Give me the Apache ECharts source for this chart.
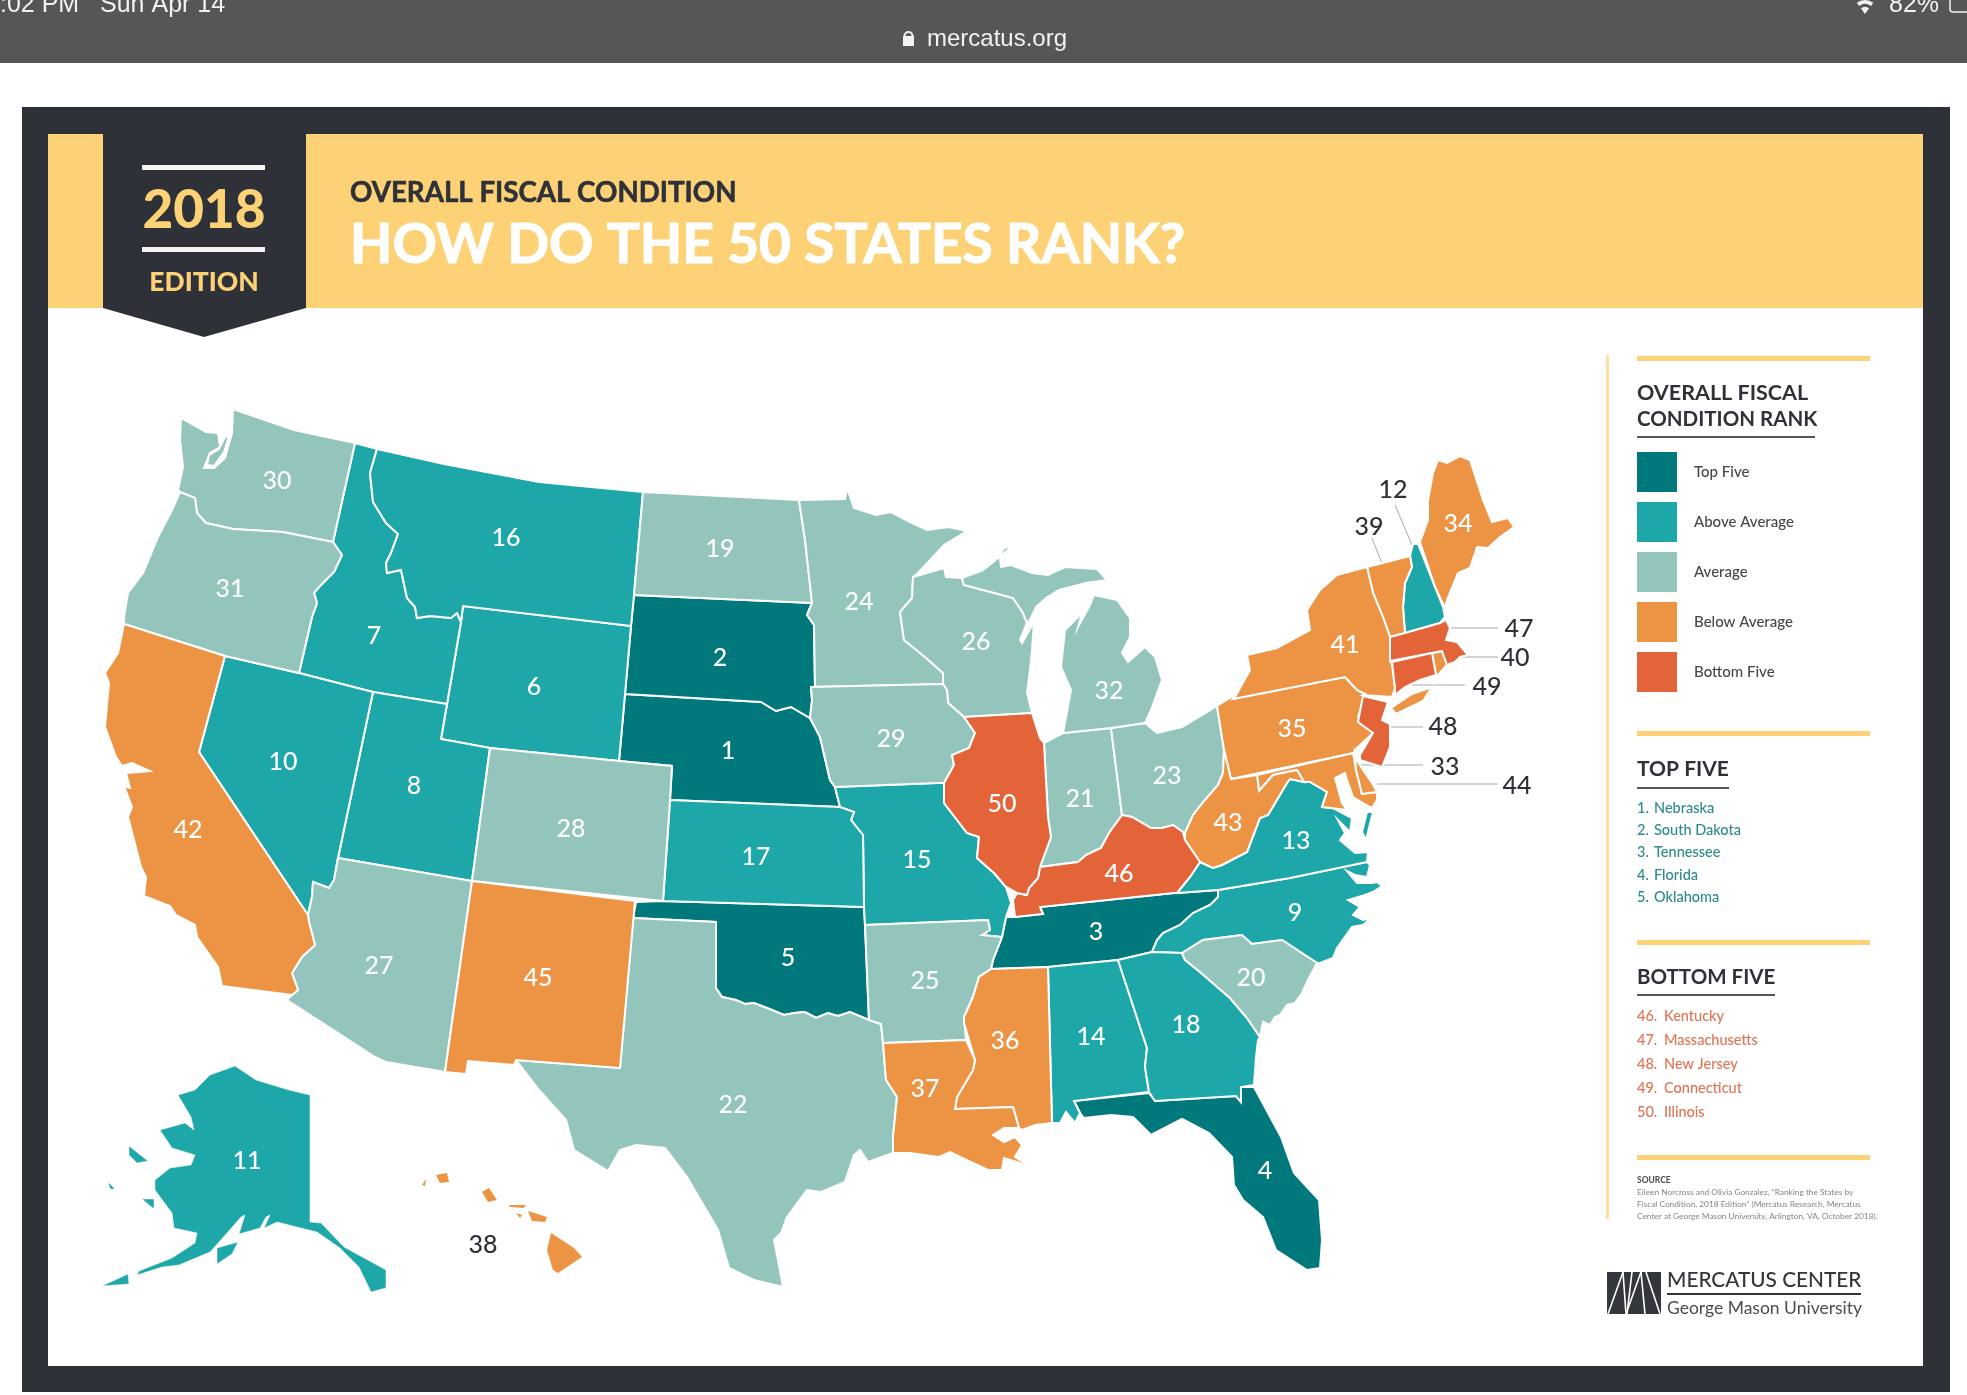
<!DOCTYPE html>
<html>
<head>
<meta charset="utf-8">
<title>How do the 50 states rank?</title>
<script src="https://cdn.jsdelivr.net/npm/echarts@6/dist/echarts.min.js"></script>
<style>
html,body{margin:0;padding:0;background:#fff}
#container{width:1967px;height:1395px}
</style>
</head>
<body>
<div id="container"></div>
<script>
// data
var stateNames = ["Nebraska","South Dakota","Tennessee","Florida","Oklahoma","Wyoming","Idaho","Utah","North Carolina","Nevada",
    "Alaska","New Hampshire","Virginia","Alabama","Missouri","Montana","Kansas","Georgia","North Dakota","South Carolina",
    "Indiana","Texas","Ohio","Minnesota","Arkansas","Wisconsin","Arizona","Colorado","Iowa","Washington",
    "Oregon","Michigan","Maryland","Maine","Pennsylvania","Mississippi","Louisiana","Hawaii","Vermont","Rhode Island",
    "New York","California","West Virginia","Delaware","New Mexico","Kentucky","Massachusetts","New Jersey","Connecticut","Illinois"];
var stateRanks = [1,2,3,4,5,6,7,8,9,10,11,12,13,14,15,16,17,18,19,20,21,22,23,24,25,26,27,28,29,30,31,32,33,34,35,36,37,38,39,40,41,42,43,44,45,46,47,48,49,50];
var calloutStates = ["Hawaii","New Hampshire","Vermont","Massachusetts","Rhode Island","Connecticut","New Jersey","Maryland","Delaware"];

var tierLabels = ["Top Five","Above Average","Average","Below Average","Bottom Five"];
var tierMin = [1,6,19,33,46];
var tierMax = [5,18,32,45,50];
var tierColors = ["#00787c","#1ea7a8","#93c5bc","#ec9344","#e4643a"];

var topFive = ["Nebraska","South Dakota","Tennessee","Florida","Oklahoma"];
var topFiveRanks = [1,2,3,4,5];
var bottomFive = ["Kentucky","Massachusetts","New Jersey","Connecticut","Illinois"];
var bottomFiveRanks = [46,47,48,49,50];

// state outlines, traced in page pixels
var shapes = {
"Washington":["181,418 206,432 218,433 220,447 210,453 204,468 214,468 225,458 232,433 233,409 294,430 355,443 333,542 283,532 233,529 206,523 197,513 195,498 180,492 178,490 183,467 180,440",
    "207,465 209,455 219,449 225,437 229,436 224,452 214,466"],
"Oregon":["180,492 195,498 197,513 206,523 233,529 283,532 333,542 342,555 334,572 319,587 314,593 317,603 312,617 299,673 225,656 124,624 124,617 128,593 143,573 158,537 172,510"],
"Idaho":["355,443 377,449 370,473 373,502 386,523 398,534 391,553 386,563 387,573 401,570 407,598 415,607 417,618 430,616 451,618 457,613 461,622 447,704 373,692 299,673 312,617 317,603 314,593 319,587 334,572 342,555 333,542"],
"Montana":["377,449 444,464 539,482 643,492 634,595 631,626 463,606 461,622 457,613 451,618 430,616 417,618 415,607 407,598 401,570 387,573 386,563 391,553 398,534 386,523 373,502 370,473"],
"Wyoming":["463,606 631,626 625,694 619,761 490,748 441,739 447,704 461,622"],
"North Dakota":["643,492 799,500 805,540 812,603 634,595"],
"South Dakota":["634,595 812,603 807,615 814,625 815,687 811,687 812,700 810,718 791,707 776,711 761,702 625,694 631,626"],
"Nebraska":["625,694 761,702 776,711 791,707 810,718 820,737 830,780 835,787 840,807 670,800 672,766 619,761"],
"Kansas":["670,800 840,807 854,812 851,820 863,835 864,907 663,901"],
"Colorado":["490,748 619,761 672,766 670,800 663,901 472,881"],
"Utah":["373,692 447,704 441,739 490,748 472,881 338,858"],
"Nevada":["225,656 299,673 373,692 338,858 334,880 329,888 313,882 312,897 308,915 199,752"],
"California":["124,624 225,656 199,752 308,915 309,922 315,945 302,957 292,973 298,990 292,995 222,986 218,967 197,937 195,925 176,915 170,906 144,896 146,877 141,867 128,817 132,807 124,786 130,788 126,773 150,771 132,763 122,766 116,757 105,727 109,683 105,673 118,653"],
"Arizona":["338,858 472,881 445,1072 386,1062 375,1057 287,1000 292,995 298,990 292,973 302,957 315,945 309,922 308,915 312,897 313,882 329,888 334,880"],
"New Mexico":["472,881 635,901 620,1068 516,1060 514,1065 468,1061 466,1074 445,1072"],
"Oklahoma":["636,902 663,901 864,907 865,925 869,1020 850,1012 838,1016 828,1013 816,1018 805,1012 794,1013 784,1015 772,1010 754,1003 745,1004 736,1000 722,997 716,988 716,922 633,918"],
"Texas":["633,918 716,922 716,988 722,997 736,1000 745,1004 754,1003 772,1010 784,1015 794,1013 805,1012 816,1018 828,1013 838,1016 850,1012 869,1020 881,1024 883,1043 886,1080 897,1097 893,1137 893,1153 868,1162 860,1150 854,1155 845,1182 821,1192 807,1190 787,1217 781,1233 774,1240 778,1260 783,1287 754,1280 729,1268 718,1230 687,1177 665,1148 636,1145 620,1150 608,1171 574,1150 566,1120 539,1090 516,1060 620,1068"],
"Arkansas":["865,925 988,920 990,930 982,935 1002,937 993,960 991,969 979,977 973,997 964,1017 966,1040 883,1043 881,1024 869,1020"],
"Missouri":["835,787 937,783 944,783 944,803 967,833 979,837 977,858 994,873 1006,887 1011,903 1006,917 1002,937 982,935 990,930 988,920 865,925 864,907 863,835 851,820 854,812 840,807"],
"Iowa":["811,687 943,684 947,690 948,703 964,717 975,733 969,748 952,755 954,765 944,783 937,783 835,787 830,780 820,737 810,718 812,700"],
"Minnesota":["799,500 845,499 847,488 854,508 876,515 891,512 910,522 927,530 948,527 967,531 944,545 918,573 913,577 912,598 900,612 904,640 925,657 943,673 943,684 811,687 815,687 814,625 807,615 812,603 805,540"],
"Wisconsin":["913,577 944,568 946,577 962,578 964,585 1002,595 1013,598 1023,613 1027,623 1020,640 1022,643 1034,622 1032,650 1030,670 1027,693 1032,713 964,717 948,703 947,690 943,684 943,673 925,657 904,640 900,612 912,598"],
"Michigan":["964,585 962,578 983,570 998,558 1004,548 1013,545 1000,557 1001,567 1011,565 1032,573 1048,575 1065,567 1097,569 1107,580 1086,583 1059,590 1046,598 1036,607 1030,620 1027,623 1023,613 1013,598 1002,595",
    "1094,595 1117,600 1130,618 1130,637 1122,653 1128,662 1145,647 1155,657 1162,680 1151,710 1145,723 1111,728 1063,733 1071,690 1061,667 1065,630 1082,613 1078,627 1090,605"],
"Illinois":["964,717 1032,713 1040,738 1044,743 1048,817 1051,837 1040,867 1038,878 1029,888 1027,895 1017,893 1006,887 994,873 977,858 979,837 967,833 944,803 944,783 954,765 952,755 969,748 975,733"],
"Indiana":["1044,743 1063,733 1111,728 1122,815 1109,833 1101,848 1086,855 1078,862 1055,865 1040,867 1051,837 1048,817"],
"Ohio":["1111,728 1145,723 1157,733 1182,727 1217,706 1224,750 1223,773 1218,785 1205,800 1193,815 1185,833 1183,832 1173,825 1162,828 1151,828 1132,817 1122,815"],
"Kentucky":["1122,815 1132,817 1151,828 1162,828 1173,825 1183,832 1185,840 1200,862 1190,877 1177,893 1174,893 1040,907 1043,914 1015,917 1013,900 1017,893 1027,895 1029,888 1038,878 1040,867 1055,865 1078,862 1086,855 1101,848 1109,833"],
"Tennessee":["1006,917 1015,917 1043,914 1040,907 1174,893 1177,893 1218,890 1218,897 1210,905 1193,913 1180,925 1163,933 1157,940 1152,952 1118,960 1048,967 991,969 993,960 1002,937"],
"Mississippi":["991,969 1048,967 1052,1123 1035,1125 1022,1130 1019,1128 1013,1107 955,1109 957,1097 973,1070 975,1060 964,1023 964,1017 973,997 979,977"],
"Louisiana":["883,1043 966,1040 975,1060 973,1070 957,1097 955,1109 1013,1107 1019,1128 1004,1128 993,1135 1004,1142 1015,1137 1022,1145 1015,1157 1033,1168 1017,1162 1004,1158 1002,1170 988,1170 973,1163 950,1152 939,1157 910,1153 893,1153 893,1137 897,1097 886,1080"],
"Alabama":["1048,967 1118,960 1147,1048 1145,1067 1149,1092 1074,1101 1080,1113 1075,1123 1066,1112 1060,1123 1052,1123"],
"Georgia":["1118,960 1152,952 1182,953 1185,960 1200,972 1230,998 1247,1018 1260,1037 1258,1040 1256,1057 1254,1085 1241,1087 1241,1102 1236,1096 1155,1101 1149,1092 1145,1067 1147,1048"],
"Florida":["1074,1101 1149,1093 1155,1101 1236,1096 1241,1102 1241,1087 1254,1087 1281,1137 1294,1173 1319,1200 1322,1240 1320,1268 1307,1270 1276,1250 1267,1227 1263,1217 1243,1200 1234,1185 1232,1157 1209,1133 1182,1119 1151,1135 1133,1117 1111,1115 1084,1118 1080,1113"],
"South Carolina":["1182,953 1203,940 1242,935 1252,944 1282,940 1317,963 1308,980 1302,993 1295,1003 1287,1005 1280,1015 1275,1017 1270,1025 1263,1022 1260,1037 1247,1018 1230,998 1200,972 1185,960"],
"North Carolina":["1218,890 1290,878 1367,862 1370,865 1367,877 1355,875 1347,871 1357,883 1372,883 1377,882 1382,886 1373,892 1365,895 1348,900 1360,907 1353,915 1363,920 1371,918 1363,925 1352,927 1337,948 1333,958 1320,963 1317,963 1282,940 1252,944 1242,935 1203,940 1182,953 1152,952 1157,940 1163,933 1180,925 1193,913 1210,905 1218,897"],
"Virginia":["1290,779 1304,782 1310,782 1327,792 1322,807 1333,808 1352,818 1350,832 1338,820 1345,833 1340,840 1355,853 1368,852 1367,862 1290,878 1218,890 1177,893 1190,877 1200,862 1213,868 1222,865 1247,852 1260,818 1268,815 1287,783",
    "1373,812 1366,840 1362,832 1367,812"],
"West Virginia":["1224,750 1231,779 1257,775 1259,791 1273,775 1287,772 1297,770 1304,782 1290,779 1287,783 1268,815 1260,818 1247,852 1222,865 1213,868 1200,862 1185,840 1185,833 1193,815 1205,800 1218,785 1223,773"],
"Pennsylvania":["1217,706 1233,696 1233,699 1345,677 1357,690 1365,694 1358,717 1373,733 1357,748 1353,753 1231,779 1224,750"],
"New York":["1235,697 1250,670 1247,655 1277,648 1310,630 1307,610 1320,590 1337,575 1367,567 1373,593 1383,617 1390,637 1390,661 1392,664 1395,688 1392,697 1363,695 1365,694 1357,690 1345,677 1233,699",
    "1391,708 1412,694 1432,687 1423,701 1396,714"],
"Vermont":["1367,567 1410,556 1412,567 1405,583 1403,607 1405,633 1390,637 1383,617 1373,593"],
"New Hampshire":["1413,544 1418,544 1435,587 1443,607 1445,617 1440,623 1405,633 1403,607 1405,583 1412,567 1410,556"],
"Maine":["1420,542 1428,520 1428,500 1433,473 1438,460 1447,463 1460,456 1470,460 1483,500 1492,522 1508,518 1514,527 1500,537 1488,548 1477,547 1470,568 1458,573 1447,600 1445,608 1435,587"],
"Massachusetts":["1390,637 1405,633 1440,623 1446,620 1450,628 1446,640 1457,642 1468,655 1460,657 1455,662 1447,665 1442,651 1432,653 1390,661"],
"Rhode Island":["1432,653 1442,651 1447,665 1438,675 1436,675"],
"Connecticut":["1392,662 1432,653 1436,675 1420,680 1405,687 1395,695 1395,688"],
"New Jersey":["1363,696 1388,702 1382,720 1390,724 1390,747 1382,767 1360,760 1360,755 1373,733 1358,722"],
"Delaware":["1355,753 1358,762 1363,770 1372,783 1377,792 1362,794 1356,770"],
"Maryland":["1257,775 1353,753 1356,770 1362,794 1377,792 1377,800 1372,808 1363,803 1353,797 1347,780 1345,773 1335,778 1342,803 1347,810 1322,807 1327,792 1310,782 1304,782 1297,770 1287,772 1273,775 1259,791"],
"Alaska":["235,1066 256,1080 289,1090 310,1095 310,1222 321,1223 344,1247 386,1270 386,1288 371,1292 359,1267 340,1248 317,1232 277,1222 264,1228 270,1215 266,1217 260,1228 239,1234 245,1215 241,1217 227,1233 210,1252 179,1265 162,1267 137,1275 139,1271 172,1258 195,1243 197,1233 174,1228 172,1213 155,1190 155,1180 170,1168 191,1165 195,1155 172,1148 160,1130 185,1123 194,1130 191,1117 178,1095 195,1090 210,1075",
    "217,1248 238,1242 232,1254 217,1264",
    "102,1286 128,1274 129,1284",
    "129,1146 148,1161 137,1163 129,1155",
    "142,1199 154,1199 154,1209",
    "108,1182 115,1189 110,1189"],
"Hawaii":["551,1233 574,1248 582,1257 558,1273 553,1270 547,1250",
    "528,1211 547,1217 545,1222 532,1221",
    "482,1192 489,1188 497,1200 488,1202",
    "436,1175 447,1173 449,1182 440,1183",
    "509,1205 526,1205 524,1208 510,1207",
    "516,1213 522,1215 520,1218",
    "422,1185 426,1179 425,1186"]
};

// where each rank number sits on the page
var labelAnchors = {
"Washington":[277,480],"Oregon":[230,588],"Montana":[506,537],"Idaho":[374,635],"Wyoming":[534,686],"Nevada":[283,761],"Utah":[414,785],
"California":[188,829],"Colorado":[571,828],"Arizona":[379,965],"New Mexico":[538,977],"North Dakota":[720,548],"South Dakota":[720,657],
"Nebraska":[728,750],"Kansas":[756,856],"Oklahoma":[788,957],"Texas":[733,1104],"Minnesota":[859,601],"Iowa":[891,738],"Missouri":[917,859],
"Arkansas":[925,980],"Louisiana":[925,1088],"Mississippi":[1005,1040],"Wisconsin":[976,641],"Illinois":[1002,803],"Indiana":[1080,798],
"Michigan":[1109,690],"Ohio":[1167,775],"Kentucky":[1119,873],"Tennessee":[1096,931],"Alabama":[1091,1036],"Georgia":[1186,1024],
"Florida":[1265,1170],"South Carolina":[1251,977],"North Carolina":[1295,912],"Virginia":[1296,840],"West Virginia":[1228,822],
"Pennsylvania":[1292,728],"New York":[1345,644],"Maine":[1458,523],"Alaska":[247,1160],
"New Hampshire":[1393,489],"Vermont":[1369,526],"Massachusetts":[1519,628],"Rhode Island":[1515,657],"Connecticut":[1487,686],
"New Jersey":[1443,726],"Maryland":[1445,766],"Delaware":[1517,785],"Hawaii":[483,1244]
};

// leader lines from the outside numbers into the small states
var leaders = [[1395,505,1412,545],[1372,538,1389,582],[1498,628,1448,628],[1498,657,1448,657],[1465,685,1412,685],[1423,727,1377,727],[1423,765,1332,765],[1498,784,1377,784]];

function parseRing(s) {
    var pts = s.split(" ").map(function (p) {
        var xy = p.split(",");
        return [+xy[0], +xy[1]];
    });
    pts.push(pts[0]);
    return [pts];
}

var features = [];
for (var i = 0; i < stateNames.length; i++) {
    var nm = stateNames[i];
    features.push({
        type: "Feature",
        properties: {name: nm, cp: labelAnchors[nm]},
        geometry: {type: "MultiPolygon", coordinates: shapes[nm].map(parseRing)}
    });
}
echarts.registerMap("states", {type: "FeatureCollection", features: features});

var dark = "#2f3138", yellow = "#fdd277", paleYellow = "#fbe0a0";
var numFont = "Lato, sans-serif", headFont = "Lato, sans-serif";

function rect(x, y, w, h, fill) {
    return {type: "rect", silent: true, shape: {x: x, y: y, width: w, height: h}, style: {fill: fill}};
}
function txt(x, y, s, size, color, weight, font, align) {
    return {type: "text", silent: true, x: x, y: y, style: {
        text: s, fontSize: size, fill: color, fontWeight: weight || "normal",
        fontFamily: font || headFont, textAlign: align || "left", textVerticalAlign: "middle"
    }};
}
function seg(x1, y1, x2, y2, color, w) {
    return {type: "line", silent: true, shape: {x1: x1, y1: y1, x2: x2, y2: y2}, style: {stroke: color, lineWidth: w}};
}

var g = [];
// browser bar
g.push(rect(0, 0, 1967, 63, "#565656"));
g.push(txt(0, 5, ":02 PM   Sun Apr 14", 25, "#f2f2f2", "normal", "Liberation Sans"));
g.push(txt(927, 39, "mercatus.org", 24, "#f2f2f2", "normal", "Liberation Sans"));
g.push(rect(903, 36, 11, 10, "#f2f2f2"));
g.push({type: "arc", silent: true, shape: {cx: 908.5, cy: 36, r: 4, startAngle: Math.PI, endAngle: 0}, style: {stroke: "#f2f2f2", fill: "none", lineWidth: 2}});
g.push(txt(1889, 5, "82%", 25, "#f2f2f2", "normal", "Liberation Sans"));
g.push({type: "sector", silent: true, shape: {cx: 1865, cy: 14, r: 14, r0: 10, startAngle: -2.2, endAngle: -0.94}, style: {fill: "#f2f2f2"}});
g.push({type: "sector", silent: true, shape: {cx: 1865, cy: 14, r: 7, r0: 0, startAngle: -2.2, endAngle: -0.94}, style: {fill: "#f2f2f2"}});
g.push({type: "rect", silent: true, shape: {x: 1950, y: -6, width: 30, height: 18, r: 3}, style: {fill: "none", stroke: "#f2f2f2", lineWidth: 1.5}});
// dark frame
g.push(rect(22, 107, 1928, 27, dark));
g.push(rect(22, 1366, 1928, 26, dark));
g.push(rect(22, 107, 26, 1285, dark));
g.push(rect(1923, 107, 27, 1285, dark));
// banner and ribbon
g.push(rect(48, 134, 1875, 174, yellow));
g.push({type: "polygon", silent: true, shape: {points: [[103, 134], [306, 134], [306, 308], [204, 337], [103, 308]]}, style: {fill: dark}});
g.push(rect(142, 165, 123, 5, "#f4f4f4"));
g.push(rect(142, 247, 123, 5, "#f4f4f4"));
g.push(txt(204, 211, "2018", 53, yellow, 900, headFont, "center"));
g.push(txt(204, 282, "EDITION", 26.5, yellow, 900, headFont, "center"));
// right hand panel
g.push(rect(1606, 355, 3, 864, paleYellow));
g.push(rect(1637, 356, 233, 5, yellow));
g.push(rect(1637, 731, 233, 5, yellow));
g.push(rect(1637, 940, 233, 5, yellow));
g.push(rect(1637, 1155, 233, 5, yellow));
g.push(txt(1637, 393, "OVERALL FISCAL", 21.5, dark, "bold"));
g.push(txt(1637, 419, "CONDITION RANK", 20.5, dark, "bold"));
g.push(rect(1637, 436, 178, 2, "#55575c"));
g.push(txt(1637, 769, "TOP FIVE", 21, dark, "bold"));
g.push(rect(1637, 787, 92, 2, "#55575c"));
g.push(txt(1637, 977, "BOTTOM FIVE", 20.5, dark, "bold"));
g.push(rect(1637, 994, 138, 2, "#55575c"));
for (var t = 0; t < topFive.length; t++) {
    g.push(txt(1637, 808 + t * 22.3, topFiveRanks[t] + ".", 14.5, "#2b8a8c", 500));
    g.push(txt(1654, 808 + t * 22.3, topFive[t], 14.5, "#2b8a8c", 500));
}
for (var b = 0; b < bottomFive.length; b++) {
    g.push(txt(1637, 1016.5 + b * 23.9, bottomFiveRanks[b] + ".", 14.5, "#df7352", 500));
    g.push(txt(1664, 1016.5 + b * 23.9, bottomFive[b], 14.5, "#df7352", 500));
}
g.push(txt(1637, 1180, "SOURCE", 8.5, "#4a4a4a", "bold"));
g.push(txt(1637, 1192, "Eileen Norcross and Olivia Gonzalez, \u201cRanking the States by", 8.3, "#858585"));
g.push(txt(1637, 1204, "Fiscal Condition, 2018 Edition\u201d (Mercatus Research, Mercatus", 8.3, "#858585"));
g.push(txt(1637, 1216, "Center at George Mason University, Arlington, VA, October 2018).", 8.3, "#858585"));
// logo
g.push(rect(1607, 1272, 54, 42, "#33363b"));
[[1608,1314,1623,1272],[1623,1272,1626,1314],[1626,1314,1641,1272],[1641,1272,1645,1314],[1632,1272,1627,1314],[1646,1272,1660,1314]].forEach(function (l) {
    g.push(seg(l[0], l[1], l[2], l[3], "#fff", 1.6));
});
g.push(txt(1667, 1280, "MERCATUS CENTER", 20.8, "#33363b", 500));
g.push(rect(1667, 1293, 194, 2, "#33363b"));
g.push(txt(1667, 1308, "George Mason University", 17.5, "#4a4c50", "normal"));
// leader lines
leaders.forEach(function (l) {
    g.push(seg(l[0], l[1], l[2], l[3], "#a9a9a9", 1));
});

var seriesData = [];
for (var k = 0; k < stateNames.length; k++) {
    var item = {name: stateNames[k], value: stateRanks[k]};
    if (calloutStates.indexOf(stateNames[k]) != -1) {
        item.label = {color: dark, fontSize: 25};
    }
    if (stateNames[k] == "Hawaii") {
        item.itemStyle = {borderWidth: 0};
    }
    if (stateNames[k] == "Alaska") {
        item.itemStyle = {borderWidth: 0.5};
    }
    seriesData.push(item);
}

var pieces = [];
for (var p = 0; p < tierLabels.length; p++) {
    pieces.push({min: tierMin[p], max: tierMax[p], label: tierLabels[p], color: tierColors[p]});
}

var myChart = echarts.init(document.getElementById("container"));
var option = {
    backgroundColor: "#fff",
    animation: false,
    title: [{
        text: "OVERALL FISCAL CONDITION",
        left: 345, top: 174,
        textStyle: {fontFamily: headFont, fontSize: 27.7, fontWeight: "bold", color: dark, textBorderColor: dark, textBorderWidth: 0.6}
    }, {
        text: "HOW DO THE 50 STATES RANK?",
        left: 345, top: 213,
        textStyle: {fontFamily: headFont, fontSize: 55, fontWeight: "bold", color: "#fff", textBorderColor: "#fff", textBorderWidth: 1.2}
    }],
    visualMap: {
        type: "piecewise",
        seriesIndex: 0,
        left: 1622, top: 437,
        orient: "vertical",
        inverse: true,
        itemSymbol: "rect",
        itemWidth: 40, itemHeight: 40, itemGap: 10, textGap: 17,
        align: "left",
        selectedMode: false,
        hoverLink: false,
        showLabel: true,
        pieces: pieces,
        textStyle: {fontFamily: headFont, fontSize: 15, fontWeight: 500, color: "#45474b", padding: [3, 0, 0, 0]}
    },
    graphic: g,
    series: [{
        type: "map",
        map: "states",
        projection: {
            project: function (pt) { return pt; },
            unproject: function (pt) { return pt; }
        },
        boundingCoords: [[0, 0], [1967, 1395]],
        left: 0, top: 0, width: 1967, height: 1395,
        aspectScale: 1,
        roam: false,
        silent: true,
        itemStyle: {borderColor: "#fff", borderWidth: 2},
        label: {show: true, formatter: "{c}", color: "#fff", fontFamily: numFont, fontSize: 25, fontWeight: 500, offset: [0, 1]},
        emphasis: {disabled: true},
        select: {disabled: true},
        data: seriesData
    }]
};
myChart.setOption(option);
</script>
</body>
</html>
